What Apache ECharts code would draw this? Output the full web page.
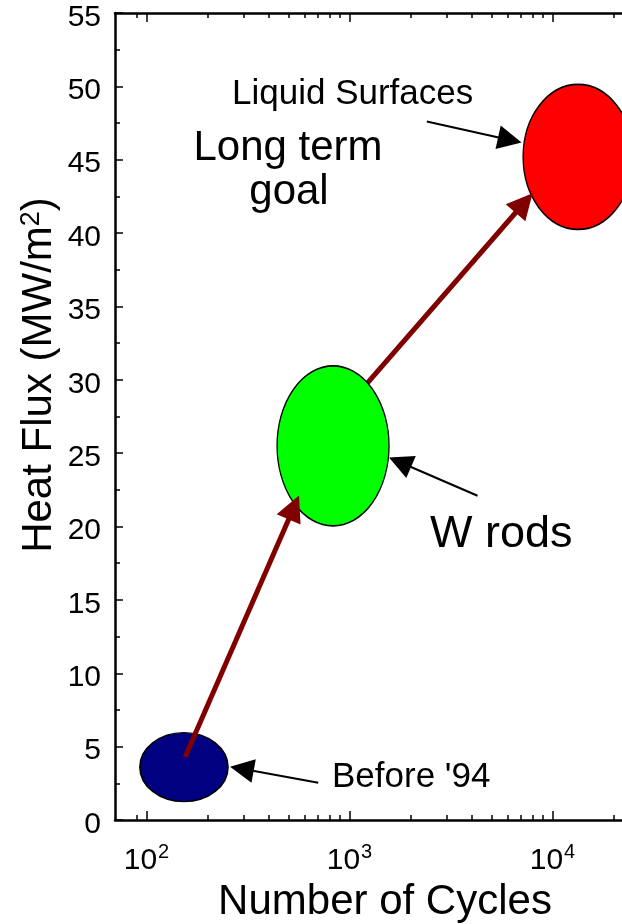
<!DOCTYPE html>
<html lang="en">

<head>
    <meta charset="UTF-8">
    <title>Heat Flux vs Number of Cycles</title>
    <script src="https://cdn.jsdelivr.net/npm/echarts@6/dist/echarts.min.js"></script>
    <style>
        * {
            margin: 0;
            padding: 0;
        }

        #main {
            width: 622px;
            height: 924px;
            background-color: #fff;
        }
    </style>
</head>

<body>
    <div id="main"></div>
    <script>
        // data
        const blobNames = ["Before '94", 'W rods', 'Liquid Surfaces'];
        const blobCycles = [153, 830, 13370];
        const blobFlux = [3.6, 25.5, 45.2];

        // dark red trend arrows: [from, arrowhead centre]
        const trendCycles = [[155, 532], [906, 7245]];
        const trendFlux = [[4.3, 21.3], [27.7, 42.05]];

        // black pointer arrows for the notes: [tail, arrowhead centre]
        const noteCycles = [[2405, 6165], [4275, 1774], [702, 295]];
        const noteFlux = [[47.6, 46.35], [22.1, 24.38], [2.54, 3.49]];

        const xMajor = [100, 1000, 10000];
        const xMinor = [90, 200, 300, 400, 500, 600, 700, 800, 900,
            2000, 3000, 4000, 5000, 6000, 7000, 8000, 9000, 20000];

        const font = "'Liberation Sans', Arial, sans-serif";
        const chart = echarts.init(document.getElementById('main'));

        function xAxisDef(pos, ticks, len, withLine, withLabel) {
            return {
                type: 'log',
                position: pos,
                min: 70,
                max: 22000,
                axisLine: { show: withLine, onZero: false, lineStyle: { color: '#000', width: 2.5 } },
                axisTick: { show: true, inside: true, length: len, customValues: ticks, lineStyle: { color: '#000', width: 1.5 } },
                axisLabel: {
                    show: withLabel,
                    customValues: xMajor,
                    margin: 22,
                    formatter: function (v) {
                        return '{b|10}{s|' + Math.round(Math.log10(v)) + '}';
                    },
                    rich: {
                        b: { fontSize: 30, fontFamily: font, color: '#000' },
                        s: { fontSize: 20, fontFamily: font, color: '#000', padding: [0, 0, 18, 1] }
                    }
                },
                splitLine: { show: false }
            };
        }

        function pairs(xs, ys) {
            return xs.map((c, i) => ({ coords: [[c[0], ys[i][0]], [c[1], ys[i][1]]] }));
        }

        const blobColors = ['#000080', '#00ff00', '#ff0000'];
        const blobSizes = [[88, 69], [112, 160], [110, 145]];
        const blobZ = [3, 5, 1];

        const series = blobNames.map((n, i) => ({
            name: n,
            type: 'scatter',
            z: blobZ[i],
            symbol: 'circle',
            symbolSize: blobSizes[i],
            itemStyle: { color: blobColors[i], borderColor: '#000', borderWidth: 1.5, opacity: 1 },
            data: [[blobCycles[i], blobFlux[i]]]
        }));

        const trend = pairs(trendCycles, trendFlux);
        // first arrow sits over the blue and green blobs, second one under the green blob
        series.push({
            type: 'lines',
            coordinateSystem: 'cartesian2d',
            z: 6,
            symbol: ['none', 'triangle'],
            symbolSize: 26,
            lineStyle: { color: '#800000', width: 5, opacity: 1 },
            itemStyle: { color: '#800000' },
            data: [trend[0]]
        });
        series.push({
            type: 'lines',
            coordinateSystem: 'cartesian2d',
            z: 2,
            symbol: ['none', 'triangle'],
            symbolSize: 26,
            lineStyle: { color: '#800000', width: 5, opacity: 1 },
            itemStyle: { color: '#800000' },
            data: [trend[1]]
        });
        series.push({
            type: 'lines',
            coordinateSystem: 'cartesian2d',
            z: 7,
            symbol: ['none', 'triangle'],
            symbolSize: 24,
            lineStyle: { color: '#000', width: 2, opacity: 1 },
            itemStyle: { color: '#000' },
            data: pairs(noteCycles, noteFlux)
        });

        function label(text, x, y, size, align) {
            return {
                type: 'text',
                x: x,
                y: y,
                z: 10,
                style: { text: text, font: size + 'px ' + font, fill: '#000', align: align, verticalAlign: 'middle' }
            };
        }

        const option = {
            backgroundColor: '#fff',
            animation: false,
            grid: { left: 115, right: 0, top: 13, bottom: 104 },
            xAxis: [
                xAxisDef('bottom', xMajor, 9, true, true),
                xAxisDef('bottom', xMinor, 5, false, false),
                xAxisDef('top', xMajor, 9, true, false),
                xAxisDef('top', xMinor, 5, false, false)
            ],
            yAxis: {
                type: 'value',
                min: 0,
                max: 55,
                interval: 5,
                axisLine: { show: true, lineStyle: { color: '#000', width: 2.5 } },
                axisTick: { inside: true, length: 8, lineStyle: { color: '#000', width: 1.5 } },
                minorTick: { show: true, splitNumber: 2, length: 5, lineStyle: { color: '#000', width: 1.5 } },
                axisLabel: {
                    margin: 14,
                    formatter: '{v|{value}}',
                    rich: { v: { fontSize: 30, fontFamily: font, color: '#000', padding: [9, 0, 0, 0] } }
                },
                splitLine: { show: false }
            },
            graphic: [
                label('Liquid Surfaces', 232, 94, 35, 'left'),
                label('Long term', 288, 148, 42, 'center'),
                label('goal', 289, 192, 42, 'center'),
                label('W rods', 430, 535, 45, 'left'),
                label("Before '94", 332, 777, 35, 'left'),
                label('Number of Cycles', 385, 902, 42, 'center'),
                {
                    type: 'text',
                    x: 39,
                    y: 375,
                    rotation: Math.PI / 2,
                    style: {
                        text: '{a|Heat Flux (MW/m}{s|2}{a|)}',
                        align: 'center',
                        verticalAlign: 'middle',
                        rich: {
                            a: { fontSize: 42, fontFamily: font, fill: '#000' },
                            s: { fontSize: 27, fontFamily: font, fill: '#000', verticalAlign: 'top' }
                        }
                    }
                }
            ],
            series: series
        };

        chart.setOption(option);
    </script>
</body>

</html>
